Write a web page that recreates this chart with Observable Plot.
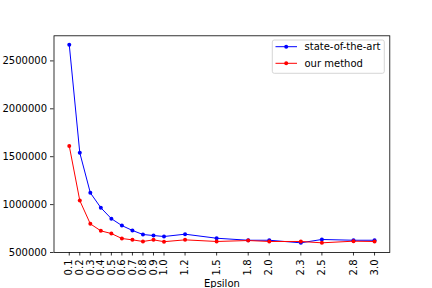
<!DOCTYPE html>
<html><head><meta charset="utf-8">
<script src="https://cdn.jsdelivr.net/npm/d3@7"></script>
<script src="https://cdn.jsdelivr.net/npm/@observablehq/plot@0.6"></script>
<style>body{margin:0;background:#fff} svg{font-family:"DejaVu Sans",sans-serif}</style>
</head><body><div id="chart"></div>
<script>
const epsilon = [0.1,0.2,0.3,0.4,0.5,0.6,0.7,0.8,0.9,1.0,1.2,1.5,1.8,2.0,2.3,2.5,2.8,3.0];
const stateOfTheArt = [2668000,1541000,1123000,967000,853000,781000,730000,688000,677000,667000,691000,649000,628000,628000,601000,636000,628000,628000];
const ourMethod = [1612000,1042000,799000,726000,698000,646000,632000,615000,632000,613000,632000,615000,625000,615000,615000,601000,618000,615000];
const seriesNames = ["state-of-the-art","our method"];
const seriesColors = ["#0000ff","#ff0000"];
const yTicks = [500000,1000000,1500000,2000000,2500000];
const xLabel = "Epsilon";

const rows = [];
epsilon.forEach((e,i)=>{
  rows.push({epsilon:e, value:stateOfTheArt[i], series:seriesNames[0]});
  rows.push({epsilon:e, value:ourMethod[i], series:seriesNames[1]});
});

const chart = Plot.plot({
  width:432, height:288,
  marginLeft:53.5, marginRight:42.7, marginTop:35.3, marginBottom:36,
  style:{fontFamily:"DejaVu Sans, sans-serif", fontSize:"10px", background:"white", color:"black", overflow:"visible"},
  x:{domain:[-0.045,3.145]},
  y:{domain:[500000,2762000]},
  color:{domain:seriesNames, range:seriesColors},
  marks:[
    Plot.axisY({ticks:yTicks, tickSize:3.5, tickPadding:3.5, tickFormat:d=>String(d), label:null, strokeWidth:0.8}),
    Plot.axisX({ticks:epsilon, tickSize:3.5, tickPadding:3.5, tickRotate:-90, tickFormat:d3.format(".1f"), label:null, strokeWidth:0.8}),
    Plot.line(rows,{x:"epsilon",y:"value",z:"series",stroke:"series",strokeWidth:1}),
    Plot.dot(rows,{x:"epsilon",y:"value",fill:"series",r:2,stroke:null}),
    Plot.frame({stroke:"black", strokeWidth:0.8}),
    Plot.text([xLabel],{text:d=>d, frameAnchor:"bottom", dy:31.3, lineAnchor:"middle", fontSize:10, fill:"black"})
  ]
});
document.getElementById("chart").appendChild(chart);

// legend
const svg = d3.select(chart);
const lg = svg.append("g").attr("text-anchor","start");
lg.append("rect").attr("x",272.3).attr("y",40).attr("width",112).attr("height",33.3)
  .attr("rx",2).attr("fill","white").attr("fill-opacity",0.8).attr("stroke","#cccccc").attr("stroke-width",0.8);
seriesNames.forEach((name,i)=>{
  const yy = 46.7 + i*16.6;
  lg.append("line").attr("x1",275.5).attr("x2",297).attr("y1",yy).attr("y2",yy)
    .attr("stroke",seriesColors[i]).attr("stroke-width",1);
  lg.append("circle").attr("cx",286.2).attr("cy",yy).attr("r",2).attr("fill",seriesColors[i]);
  lg.append("text").attr("x",304.5).attr("y",yy).attr("dy","0.35em").attr("text-anchor","start")
    .attr("font-size",10).attr("fill","black").text(name);
});
</script></body></html>
